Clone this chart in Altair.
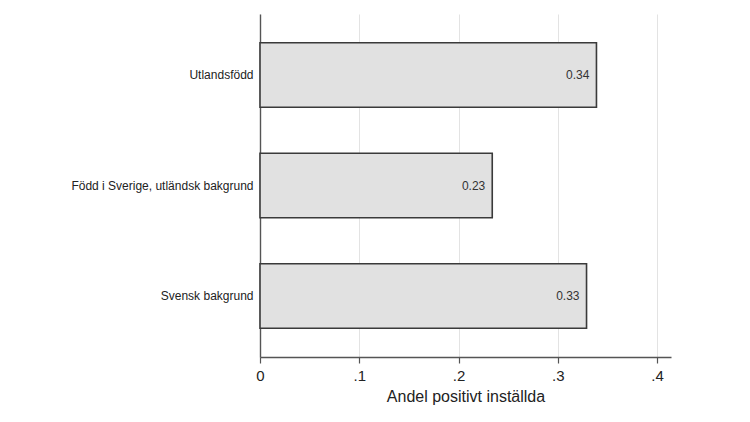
import pandas as pd
import altair as alt

# Kategorier och andelar
grupper = ["Utlandsfödd", "Född i Sverige, utländsk bakgrund", "Svensk bakgrund"]
andel = [0.339, 0.234, 0.329]
etiketter = ["0.34", "0.23", "0.33"]
x_ticks = [0, 0.1, 0.2, 0.3, 0.4]

df = pd.DataFrame({"grupp": grupper, "andel": andel, "etikett": etiketter})

font = "Liberation Sans"

x_scale = alt.Scale(domain=[0, 0.4141], nice=False, zero=True)
y_scale = alt.Scale(domain=grupper, paddingInner=0.416, paddingOuter=0.26)

bars = alt.Chart(df).mark_bar(
    color="#e1e1e1", stroke="#3a3a3a", strokeWidth=1.6
).encode(
    x=alt.X("andel:Q", scale=x_scale, title="Andel positivt inställda",
            axis=alt.Axis(values=x_ticks,
                          labelExpr="datum.value == 0 ? '0' : replace(format(datum.value, '.1f'), '0.', '.')",
                          labelFlush=False, labelOverlap=False,
                          tickSize=6, tickColor="#555", tickWidth=1.2,
                          domainColor="#555", domainWidth=1.4,
                          labelFontSize=15, labelColor="#222", labelPadding=5,
                          titleFontSize=16, titleColor="#222", titlePadding=5,
                          titleFontWeight="normal",
                          grid=True, gridColor="#e3e3e3", gridWidth=1,
                          labelFont=font, titleFont=font)),
    y=alt.Y("grupp:N", scale=y_scale, sort=grupper, title=None,
            axis=alt.Axis(ticks=False, labelPadding=7, labelFontSize=12,
                          labelColor="#222", domainColor="#555", domainWidth=1.4,
                          labelLimit=300, labelFont=font, grid=False))
)

text = alt.Chart(df).mark_text(
    align="right", baseline="middle", dx=-7, fontSize=12, color="#333", font=font
).encode(
    x=alt.X("andel:Q", scale=x_scale),
    y=alt.Y("grupp:N", scale=y_scale, sort=grupper),
    text="etikett:N"
)

chart = (bars + text).properties(
    width=411,
    height=343,
    autosize=alt.AutoSizeParams(type="none"),
    padding={"left": 252, "top": 6, "right": 60, "bottom": 50}
).configure(background="white").configure_view(stroke=None)

chart.save("out.html", embed_options={"renderer": "svg", "actions": False})
